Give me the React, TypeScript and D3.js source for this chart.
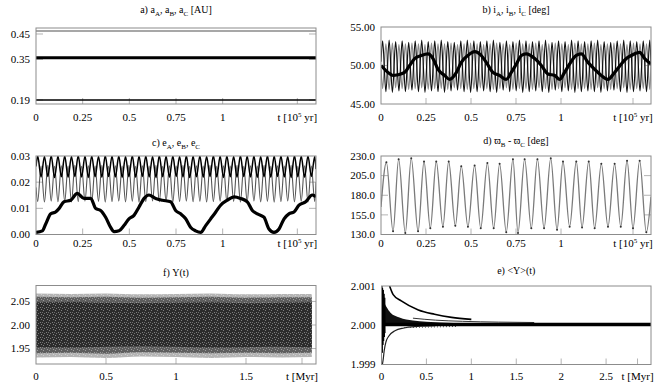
import React from 'react';
import * as d3 from 'd3';

const FONT = 'Liberation Serif';

// shared time axis of the upper four panels [10^5 yr]
const timeTicks = [0, 0.25, 0.5, 0.75, 1];
const timeUnitAt = 1.4;

// times of the extrema of panel d
const dT = [0.030, 0.067, 0.098, 0.135, 0.168, 0.206, 0.239, 0.274, 0.307, 0.344, 0.376, 0.413,
  0.446, 0.483, 0.520, 0.554, 0.591, 0.626, 0.659, 0.696, 0.733, 0.761, 0.798, 0.835, 0.869, 0.906,
  0.943, 0.978, 1.011, 1.048, 1.085, 1.117, 1.154, 1.187, 1.224, 1.261, 1.298, 1.332, 1.367, 1.400,
  1.437, 1.474];

// the fast oscillation of panels b and c: first extremum and spacing between extrema
const fastStart = 0.009;
const fastStep = 0.0181;

// a) semi-major axes [AU]
const aTicks = [0.19, 0.35, 0.45];
const aLevelA = 0.19;
const aLevelB = 0.356;
const aLevelC = 0.462;

// b) inclinations [deg]
const iTicks = [45, 50, 55];
const iA = [[0, 50.0], [0.039, 49.1], [0.067, 48.7], [0.094, 48.8], [0.131, 49.1], [0.159, 50.0],
  [0.187, 50.9], [0.224, 51.3], [0.261, 51.5], [0.289, 50.9], [0.317, 49.5], [0.354, 48.7],
  [0.381, 48.2], [0.419, 49.1], [0.446, 50.4], [0.483, 51.3], [0.520, 51.8], [0.557, 51.3],
  [0.585, 50.4], [0.622, 49.1], [0.659, 48.7], [0.696, 48.2], [0.724, 49.1], [0.752, 50.2],
  [0.780, 51.3], [0.807, 51.5], [0.854, 50.9], [0.891, 50.0], [0.928, 48.9], [0.965, 48.7],
  [0.993, 48.2], [1.020, 49.1], [1.048, 50.2], [1.085, 51.3], [1.113, 51.5], [1.150, 50.4],
  [1.187, 49.5], [1.224, 48.7], [1.261, 48.2], [1.298, 49.1], [1.335, 50.2], [1.363, 50.9],
  [1.391, 51.3], [1.437, 51.7], [1.465, 50.9], [1.5, 50.2]];
const iB = [53.2, 46.6, 53.3, 46.5, 53.1, 46.7, 53.2, 46.6, 53.0, 46.8,
  53.2, 46.6, 53.3, 46.5, 53.1, 46.7, 53.2, 46.6, 53.3, 46.5,
  53.1, 46.7, 53.0, 46.8, 53.2, 46.6, 53.3, 46.5, 53.2, 46.6,
  53.1, 46.7, 53.2, 46.6, 53.3, 46.5, 53.0, 46.8, 53.2, 46.6,
  53.1, 46.7, 53.3, 46.5, 53.2, 46.6, 53.1, 46.7, 53.2, 46.6,
  53.3, 46.5, 53.0, 46.8, 53.2, 46.6, 53.1, 46.7, 53.3, 46.5,
  53.2, 46.6, 53.1, 46.7, 53.2, 46.6, 53.3, 46.5, 53.1, 46.7,
  53.0, 46.8, 53.2, 46.6, 53.3, 46.5, 53.2, 46.6, 53.1, 46.7,
  53.2, 46.6, 53.3];
const iC = [47.0, 52.8, 46.9, 52.9, 47.1, 52.7, 47.0, 52.8, 46.9, 52.9,
  47.0, 52.8, 47.1, 52.7, 46.9, 52.9, 47.0, 52.8, 47.0, 52.8,
  46.9, 52.9, 47.1, 52.7, 47.0, 52.8, 46.9, 52.9, 47.0, 52.8,
  47.1, 52.7, 47.0, 52.8, 46.9, 52.9, 47.0, 52.8, 47.1, 52.7,
  46.9, 52.9, 47.0, 52.8, 47.0, 52.8, 46.9, 52.9, 47.1, 52.7,
  47.0, 52.8, 46.9, 52.9, 47.0, 52.8, 47.1, 52.7, 46.9, 52.9,
  47.0, 52.8, 47.0, 52.8, 46.9, 52.9, 47.1, 52.7, 47.0, 52.8,
  46.9, 52.9, 47.0, 52.8, 47.1, 52.7, 46.9, 52.9, 47.0, 52.8,
  47.0, 52.8, 46.9];
const iBEnds = [50.5, 50.0];
const iCEnds = [49.5, 50.0];

// c) eccentricities
const eTicks = [0, 0.01, 0.02, 0.03];
const eA = [[0, 0.0008], [0.034, 0.0014], [0.052, 0.004], [0.079, 0.0079], [0.105, 0.0086],
  [0.123, 0.0099], [0.150, 0.0125], [0.186, 0.0131], [0.221, 0.0157], [0.257, 0.0138],
  [0.293, 0.0138], [0.320, 0.0099], [0.346, 0.0092], [0.373, 0.0066], [0.400, 0.0027],
  [0.418, 0.0011], [0.445, 0.0014], [0.471, 0.0034], [0.498, 0.006], [0.525, 0.0073],
  [0.552, 0.0105], [0.579, 0.0138], [0.605, 0.0151], [0.641, 0.0138], [0.677, 0.0131],
  [0.721, 0.0125], [0.748, 0.0092], [0.775, 0.0079], [0.802, 0.006], [0.829, 0.0027],
  [0.855, 0.0014], [0.882, 0.0008], [0.909, 0.0034], [0.936, 0.006], [0.963, 0.0086],
  [0.989, 0.0112], [1.025, 0.0131], [1.061, 0.0144], [1.096, 0.0138], [1.132, 0.0125],
  [1.159, 0.0092], [1.186, 0.0079], [1.221, 0.0066], [1.248, 0.0021], [1.275, 0.0008],
  [1.302, 0.0021], [1.329, 0.006], [1.355, 0.0079], [1.382, 0.0086], [1.409, 0.0112],
  [1.445, 0.0125], [1.480, 0.0151], [1.5, 0.0144]];
const eB = [0.0300, 0.0220, 0.0298, 0.0222, 0.0301, 0.0218, 0.0299, 0.0221, 0.0300, 0.0219,
  0.0298, 0.0222, 0.0301, 0.0220, 0.0299, 0.0218, 0.0300, 0.0221, 0.0298, 0.0219,
  0.0301, 0.0222, 0.0299, 0.0220, 0.0300, 0.0218, 0.0298, 0.0221, 0.0301, 0.0219,
  0.0299, 0.0222, 0.0300, 0.0220, 0.0298, 0.0218, 0.0301, 0.0221, 0.0299, 0.0219,
  0.0300, 0.0222, 0.0298, 0.0220, 0.0301, 0.0218, 0.0299, 0.0221, 0.0300, 0.0219,
  0.0298, 0.0222, 0.0301, 0.0220, 0.0299, 0.0218, 0.0300, 0.0221, 0.0298, 0.0219,
  0.0301, 0.0222, 0.0299, 0.0220, 0.0300, 0.0218, 0.0298, 0.0221, 0.0301, 0.0219,
  0.0299, 0.0222, 0.0300, 0.0220, 0.0298, 0.0218, 0.0301, 0.0221, 0.0299, 0.0219,
  0.0300, 0.0222, 0.0298];
const eC = [0.0126, 0.0262, 0.0124, 0.0264, 0.0128, 0.0261, 0.0125, 0.0263, 0.0127, 0.0262,
  0.0124, 0.0264, 0.0126, 0.0261, 0.0128, 0.0263, 0.0125, 0.0262, 0.0127, 0.0264,
  0.0124, 0.0261, 0.0126, 0.0263, 0.0128, 0.0262, 0.0125, 0.0264, 0.0127, 0.0261,
  0.0124, 0.0263, 0.0126, 0.0262, 0.0128, 0.0264, 0.0125, 0.0261, 0.0127, 0.0263,
  0.0124, 0.0262, 0.0126, 0.0264, 0.0128, 0.0261, 0.0125, 0.0263, 0.0127, 0.0262,
  0.0124, 0.0264, 0.0126, 0.0261, 0.0128, 0.0263, 0.0125, 0.0262, 0.0127, 0.0264,
  0.0124, 0.0261, 0.0126, 0.0263, 0.0128, 0.0262, 0.0125, 0.0264, 0.0127, 0.0261,
  0.0124, 0.0263, 0.0126, 0.0262, 0.0128, 0.0264, 0.0125, 0.0261, 0.0127, 0.0263,
  0.0124, 0.0262, 0.0126];
const eBEnds = [0.026, 0.025];
const eCEnds = [0.018, 0.020];

// d) difference of pericentre longitudes [deg]
const dTicks = [130, 155, 180, 205, 230];
const dVals = [222, 134, 226, 132, 227, 134, 223, 138, 223, 140, 223, 141, 217, 140, 218, 138,
  221, 138, 220, 133, 226, 132, 226, 138, 226, 138, 227, 136, 223, 140, 223, 139, 223, 138,
  220, 140, 220, 140, 224, 138, 224, 133];
const dEnds = [165, 178];

// f) Upsilon(t) noise band envelopes [Myr]
const fTicks = [0, 0.5, 1, 1.5];
const fUnitAt = 1.9;
const fYTicks = [1.95, 2.0, 2.05];
const fT = [0, 0.25, 0.5, 0.75, 1.0, 1.25, 1.5, 1.75, 1.97];
const fOuterHi = [2.067, 2.066, 2.067, 2.065, 2.066, 2.067, 2.065, 2.066, 2.066];
const fOuterLo = [1.931, 1.932, 1.930, 1.933, 1.932, 1.930, 1.932, 1.931, 1.932];
const fMidHi = [2.060, 2.059, 2.060, 2.058, 2.059, 2.060, 2.058, 2.059, 2.059];
const fMidLo = [1.940, 1.941, 1.939, 1.942, 1.941, 1.940, 1.941, 1.940, 1.941];
const fCoreHi = [2.048, 2.049, 2.047, 2.046, 2.047, 2.048, 2.046, 2.047, 2.048];
const fCoreLo = [1.953, 1.952, 1.954, 1.955, 1.954, 1.952, 1.953, 1.954, 1.953];

// e) running mean <Upsilon>(t) [Myr]
const gTicks = [0, 0.5, 1, 1.5, 2, 2.5];
const gUnitAt = 2.85;
const gYTicks = [1.999, 2.0, 2.001];
const gMean = [[0, 2.00002], [3, 2.00002]];
const gUpper = [[0.09, 2.001], [0.13, 2.00078], [0.22, 2.00062], [0.41, 2.00039], [0.59, 2.00028],
  [0.78, 2.0002], [1.0, 2.00015]];
const gWedge = [[0.01, 2.0008], [0.03, 2.0006], [0.06, 2.00045], [0.1, 2.00032], [0.2, 2.0002],
  [0.35, 2.00012], [0.5, 2.00009], [0.8, 2.00006], [1.2, 2.00004], [1.7, 2.00003]];
const gTail = [[0.35, 2.00018], [0.6, 2.00013], [0.9, 2.0001], [1.3, 2.00008], [1.7, 2.00007]];
const gLower = [[0.01, 1.9990], [0.02, 1.99915], [0.03, 1.99935], [0.05, 1.99958], [0.08, 1.99972],
  [0.15, 1.99986], [0.25, 1.99993], [0.4, 1.99997], [0.6, 1.99999]];
const gDotted = [[0.25, 1.99994], [0.45, 1.99995], [0.65, 1.99996], [0.85, 1.99997]];
const gStart = [[0.0, 2.0], [0.004, 2.001], [0.008, 1.9993], [0.012, 2.00095], [0.016, 1.9995],
  [0.02, 2.0009], [0.024, 1.9996], [0.028, 2.0008], [0.032, 1.9997], [0.036, 2.0007], [0.04, 1.9998]];

type Pt = [number, number];
type Lin = d3.ScaleLinear<number, number>;
type Seg = [string, boolean?];

const slowSeries = (vals: number[], ends: number[]): Pt[] =>
  [[0, ends[0]], ...dT.map((t, i) => [t, vals[i]] as Pt), [1.5, ends[1]]];

const fastSeries = (vals: number[], ends: number[]): Pt[] =>
  [[0, ends[0]], ...vals.map((v, i) => [fastStart + i * fastStep, v] as Pt), [1.5, ends[1]]];

const Title = ({ x, y, segs }: { x: number; y: number; segs: Seg[] }) => (
  <text x={x} y={y} textAnchor="middle" fontSize={10}>
    {segs.map(([s, sub], i) => {
      const prevSub = i > 0 && segs[i - 1][1];
      const dy = sub ? 2.5 : prevSub ? -2.5 : 0;
      return <tspan key={i} dy={dy} fontSize={sub ? 7 : 10}>{s}</tspan>;
    })}
  </text>
);

type FrameProps = {
  id: string;
  x: Lin;
  y: Lin;
  xTicks: number[];
  yTicks: number[];
  yFormat: (v: number) => string;
  unitAt: number;
  unit: React.ReactNode;
  title: Seg[];
  titleY: number;
  labelY: number;
  children?: React.ReactNode;
};

const Frame = ({ id, x, y, xTicks, yTicks, yFormat, unitAt, unit, title, titleY, labelY, children }: FrameProps) => {
  const [x0, x1] = x.range();
  const [y0, y1] = y.range();
  return (
    <g>
      <clipPath id={id}><rect x={x0} y={y1} width={x1 - x0} height={y0 - y1} /></clipPath>
      <rect x={x0} y={y1} width={x1 - x0} height={y0 - y1} fill="#fff" />
      {[...xTicks.filter(t => t > 0), unitAt].map(t => (
        <line key={'xt' + t} x1={x(t)} x2={x(t)} y1={y0} y2={y0 - 6} stroke="#b4b4b4" />
      ))}
      {yTicks.filter(v => Math.abs(y(v) - y0) > 2 && Math.abs(y(v) - y1) > 2).map(v => (
        <g key={'yt' + v} stroke="#b4b4b4">
          <line x1={x0} x2={x0 + 7} y1={y(v)} y2={y(v)} />
          <line x1={x1 - 7} x2={x1} y1={y(v)} y2={y(v)} />
        </g>
      ))}
      <g clipPath={`url(#${id})`}>{children}</g>
      <rect x={x0} y={y1} width={x1 - x0} height={y0 - y1} fill="none" stroke="#8c8c8c" />
      <Title x={(x0 + x1) / 2} y={titleY} segs={title} />
      {yTicks.map(v => (
        <text key={'yl' + v} x={x0 - 6} y={y(v)} dy="0.35em" textAnchor="end" fontSize={11}>{yFormat(v)}</text>
      ))}
      {xTicks.map(t => (
        <text key={'xl' + t} x={x(t)} y={labelY} textAnchor="middle" fontSize={11}>{String(t)}</text>
      ))}
      <text x={x(unitAt)} y={labelY} textAnchor="middle" fontSize={11}>{unit}</text>
    </g>
  );
};

const tUnit = (
  <>t [10<tspan dy={-4} fontSize={7}>5</tspan><tspan dy={4}> yr]</tspan></>
);

const App = () => {
  const xa = d3.scaleLinear().domain([0, 1.5]).range([36, 316]);
  const xb = d3.scaleLinear().domain([0, 1.5]).range([381, 651]);
  const ya = d3.scaleLinear().domain([0.1742, 0.4736]).range([104, 28]);
  const yb = d3.scaleLinear().domain([45, 55]).range([104, 27]);
  const yc = d3.scaleLinear().domain([0, 0.03]).range([234.5, 156]);
  const yd = d3.scaleLinear().domain([130, 230]).range([234.5, 156]);
  const xf = d3.scaleLinear().domain([0, 2]).range([36, 316]);
  const yf = d3.scaleLinear().domain([1.9172, 2.0838]).range([364, 285.5]);
  const xe = d3.scaleLinear().domain([0, 3]).range([381.5, 651]);
  const ye = d3.scaleLinear().domain([1.999, 2.001]).range([364.5, 286]);

  const path = (x: Lin, y: Lin, pts: Pt[], curve: d3.CurveFactory = d3.curveMonotoneX) =>
    d3.line<Pt>().x(d => x(d[0])).y(d => y(d[1])).curve(curve)(pts) || '';

  const band = (hi: number[], lo: number[]) =>
    d3.area<number>().x((_, i) => xf(fT[i])).y0((_, i) => yf(lo[i])).y1(d => yf(d)).curve(d3.curveMonotoneX)(hi) || '';

  const wedge = d3.area<Pt>().x(d => xe(d[0])).y0(ye(2.0)).y1(d => ye(d[1])).curve(d3.curveMonotoneX)(gWedge as Pt[]) || '';

  const dSeries = slowSeries(dVals, dEnds);
  const f2 = d3.format('.2f');

  return (
    <svg width={667} height={389} style={{ position: 'absolute', left: 0, top: 0, background: '#fff' }}
      fontFamily={FONT} fill="#000">
      <defs>
        <pattern id="speck" width={6} height={5} patternUnits="userSpaceOnUse">
          <rect x={1} y={0} width={1} height={1} fill="#fff" />
          <rect x={4} y={2} width={1} height={1} fill="#fff" />
          <rect x={2} y={3} width={1} height={1} fill="#e0e0e0" />
          <rect x={5} y={4} width={1} height={1} fill="#fff" />
          <rect x={0} y={2} width={1} height={1} fill="#cfcfcf" />
        </pattern>
      </defs>

      <Frame id="pa" x={xa} y={ya} xTicks={timeTicks} yTicks={aTicks} yFormat={f2}
        unitAt={timeUnitAt} unit={tUnit} titleY={13} labelY={121}
        title={[['a) a'], ['A', true], [', a'], ['B', true], [', a'], ['C', true], [' [AU]']]}>
        <path d={path(xa, ya, [[0, aLevelC], [1.5, aLevelC]])} stroke="#8a8a8a" strokeWidth={1.5} fill="none" />
        <path d={path(xa, ya, [[0, aLevelB], [1.5, aLevelB]])} stroke="#000" strokeWidth={3} fill="none" />
        <path d={path(xa, ya, [[0, aLevelA], [1.5, aLevelA]])} stroke="#000" strokeWidth={1.6} fill="none" />
      </Frame>

      <Frame id="pb" x={xb} y={yb} xTicks={timeTicks} yTicks={iTicks} yFormat={f2}
        unitAt={timeUnitAt} unit={tUnit} titleY={13} labelY={121}
        title={[['b) i'], ['A', true], [', i'], ['B', true], [', i'], ['C', true], [' [deg]']]}>
        <path d={path(xb, yb, fastSeries(iC, iCEnds))} stroke="#8c8c8c" strokeWidth={1.3} fill="none" />
        <path d={path(xb, yb, fastSeries(iB, iBEnds))} stroke="#111" strokeWidth={1.2} fill="none" />
        <path d={path(xb, yb, iA as Pt[])} stroke="#000" strokeWidth={3.2} fill="none" />
      </Frame>

      <Frame id="pc" x={xa} y={yc} xTicks={timeTicks} yTicks={eTicks} yFormat={f2}
        unitAt={timeUnitAt} unit={tUnit} titleY={146} labelY={247}
        title={[['c) e'], ['A', true], [', e'], ['B', true], [', e'], ['C', true]]}>
        <path d={path(xa, yc, fastSeries(eC, eCEnds))} stroke="#555" strokeWidth={1.1} fill="none" />
        <path d={path(xa, yc, fastSeries(eB, eBEnds))} stroke="#000" strokeWidth={1.5} fill="none" />
        <path d={path(xa, yc, eA as Pt[])} stroke="#000" strokeWidth={3.2} fill="none" />
      </Frame>

      <Frame id="pd" x={xb} y={yd} xTicks={timeTicks} yTicks={dTicks} yFormat={d3.format('.1f')}
        unitAt={timeUnitAt} unit={tUnit} titleY={144} labelY={247}
        title={[['d) ϖ'], ['B', true], [' - ϖ'], ['C', true], [' [deg]']]}>
        <path d={path(xb, yd, dSeries)} stroke="#7a7a7a" strokeWidth={1.3} fill="none" />
        {dSeries.slice(1, -1).map((p, i) => (
          <circle key={i} cx={xb(p[0])} cy={yd(p[1])} r={1} fill="#333" />
        ))}
      </Frame>

      <Frame id="pf" x={xf} y={yf} xTicks={fTicks} yTicks={fYTicks} yFormat={f2}
        unitAt={fUnitAt} unit="t [Myr]" titleY={276} labelY={380}
        title={[['f) Υ(t)']]}>
        <path d={band(fOuterHi, fOuterLo)} fill="#b4b4b4" />
        <path d={band(fMidHi, fMidLo)} fill="#5e5e5e" />
        <path d={band(fCoreHi, fCoreLo)} fill="#2c2c2c" />
        <path d={band(fOuterHi, fOuterLo)} fill="url(#speck)" opacity={0.4} />
      </Frame>

      <Frame id="pe" x={xe} y={ye} xTicks={gTicks} yTicks={gYTicks} yFormat={d3.format('.3f')}
        unitAt={gUnitAt} unit="t [Myr]" titleY={274} labelY={380}
        title={[['e) <Υ>(t)']]}>
        <path d={wedge} fill="#111" />
        <path d={path(xe, ye, gStart as Pt[], d3.curveLinear)} stroke="#000" strokeWidth={1} fill="none" />
        <path d={path(xe, ye, gTail as Pt[])} stroke="#333" strokeWidth={1} fill="none" />
        <path d={path(xe, ye, gUpper as Pt[])} stroke="#000" strokeWidth={1.6} fill="none" />
        <path d={path(xe, ye, gLower as Pt[])} stroke="#222" strokeWidth={1.2} fill="none" />
        <path d={path(xe, ye, gDotted as Pt[])} stroke="#444" strokeWidth={1} strokeDasharray="1 2" fill="none" />
        <path d={path(xe, ye, gMean as Pt[])} stroke="#000" strokeWidth={3.5} fill="none" />
      </Frame>
    </svg>
  );
};

export default App;
